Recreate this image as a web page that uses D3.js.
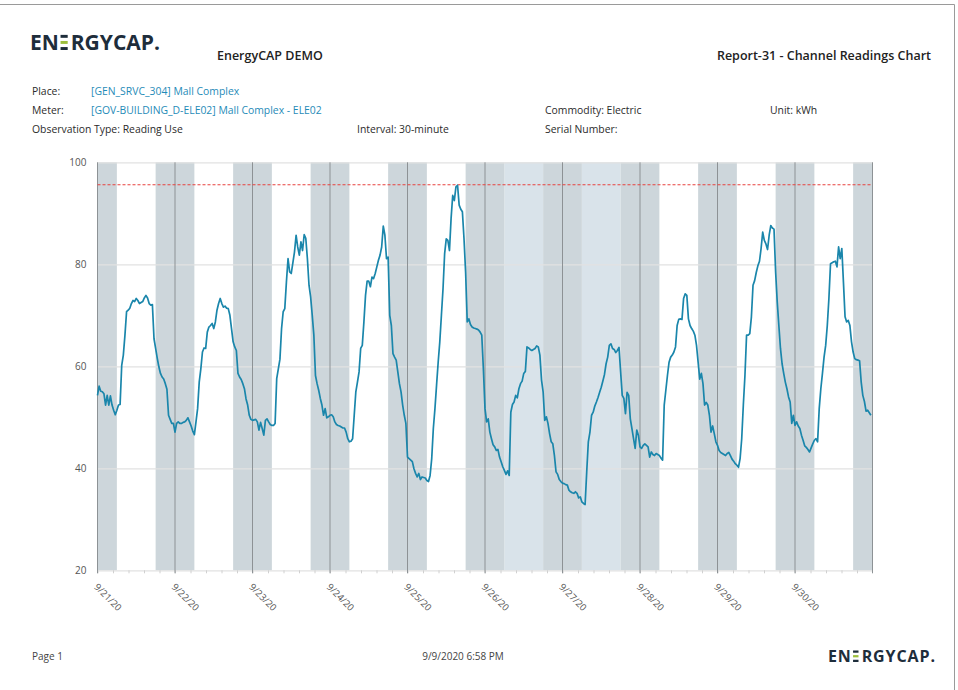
<!DOCTYPE html>
<html>
<head>
<meta charset="utf-8">
<script src="https://cdn.jsdelivr.net/npm/d3@7"></script>
<style>
  body { margin: 0; background: #fff; }
  text { font-family: "Open Sans", "Noto Sans", sans-serif; }
</style>
</head>
<body>
<svg id="page" width="958" height="690"></svg>
<script>
/* Chart data (30-minute readings, kWh)
--------------------------------------------------- */
const dayLabels = ['9/21/20', '9/22/20', '9/23/20', '9/24/20', '9/25/20', '9/26/20', '9/27/20', '9/28/20', '9/29/20', '9/30/20'];
const weekendDays = ['9/26/20', '9/27/20'];
const yTicks = [20, 40, 60, 80, 100];
const limitValue = 95.6;

const sep21 = [54.3, 56.1, 55.1, 55, 54.6, 52.4, 54.3, 52.4, 54.2, 52.4, 51.4, 50.5, 51.4, 52.4, 52.5, 60.2,
  62.2, 66.1, 70.7, 71, 71.4, 72.3, 72.9, 72.7, 73.3, 72.9, 72.3, 72.5, 72.7, 73.4, 73.9, 73.4,
  72.3, 72, 72.1, 65.4, 63.5, 61.6, 59.9, 58.6, 57.9, 57.5, 56.6, 55.5, 50.4, 49.6, 48.8, 48.8];
const sep22 = [47.1, 48.8, 49.1, 48.8, 48.8, 49, 49.1, 49.4, 49.9, 49.1, 48.3, 47.3, 46.6, 49.1, 51.7, 56.9,
  59.5, 62.8, 63.6, 63.5, 66.7, 67.7, 68, 68.4, 67.4, 68.7, 71, 72.3, 73.3, 72.3, 71.6, 71.8,
  71.4, 71.3, 70, 67.4, 64.8, 63.8, 63.1, 58.6, 57.9, 57.4, 56.6, 55.6, 53.6, 52.4, 50.4, 49.6];
const sep23 = [49.4, 49.5, 49.6, 49.1, 47.5, 49, 47.8, 46.5, 49.4, 49.7, 49.1, 48.6, 48.4, 48.4, 48.8, 57.6,
  59.5, 61.4, 67.4, 70.7, 71.3, 76.5, 81.1, 78.5, 78.2, 80.3, 82.4, 85.7, 83.4, 81.8, 84.4, 82.7,
  85.8, 85.1, 81.1, 75.9, 73.6, 70, 66.1, 58.2, 56.6, 55.3, 53.7, 52.4, 50.4, 51.7, 49.9, 50.1];
const sep24 = [50.4, 50.5, 50.1, 49.1, 48.6, 48.4, 48.3, 48.1, 47.9, 47.9, 47.1, 45.8, 45.2, 45.3, 45.8, 50.4,
  55, 56.9, 58.9, 63.5, 64.1, 68.7, 73.9, 76.7, 76.7, 75.6, 77.5, 77.2, 78.2, 79.5, 80.8, 81.8,
  83.4, 87.5, 85.7, 81.1, 81.4, 70, 68, 62.5, 61.8, 61.2, 58.9, 56.6, 55, 52.4, 50.4, 48.8];
const sep25 = [42.2, 41.9, 41.6, 41.3, 39.9, 39, 38.3, 39, 37.8, 38.3, 38.2, 38.1, 37.6, 37.4, 38.6, 41.9,
  47.8, 51.7, 56.3, 60.8, 64.8, 70, 75.2, 82.1, 85, 84.7, 82.7, 89, 93.5, 92.5, 95.2, 95.5,
  91.6, 90.8, 90.3, 85, 78.4, 68.7, 69.3, 68.2, 67.7, 67.5, 67.4, 67.3, 67.1, 66.7, 66.1, 59.5];
const sep26 = [51.7, 49.1, 49.7, 47.1, 45.8, 44.6, 44.2, 43.5, 43.7, 42.2, 41.3, 40.3, 39.6, 38.8, 39.5, 38.6,
  51, 52.5, 53, 54.3, 53.8, 55.6, 56.6, 57.1, 58.6, 59, 63.8, 63.6, 63.3, 63.1, 63.3, 63.5,
  64, 63.8, 62.2, 57.3, 55, 49.4, 50.1, 48.8, 46.8, 45.2, 44.8, 42.5, 39.3, 38.8, 37.8, 37.4];
const sep27 = [37.1, 37, 36.8, 36.7, 35.7, 35.4, 35.2, 35.1, 35.4, 35.1, 34.2, 34.4, 33.4, 33.1, 32.9, 39.3,
  45.2, 47.1, 50.4, 51, 52.2, 53, 53.9, 54.9, 55.9, 57.1, 58.4, 60.5, 61.8, 64.1, 64.4, 63.5,
  63.3, 62.7, 63.1, 63.7, 58.9, 54.3, 53.7, 50.7, 54.9, 54.3, 49.7, 47.8, 45.8, 43.9, 47.5, 46.5];
const sep28 = [44.2, 43.9, 44.5, 44.8, 44.5, 44.2, 42.2, 43.2, 42.7, 42.5, 42.9, 42.7, 42.5, 42, 41.6, 52.4,
  55.3, 58.2, 60.8, 61.8, 62.2, 62.8, 63.8, 68, 69.2, 69.3, 69.2, 73.3, 74.2, 73.9, 69.3, 68,
  67.4, 66.9, 66.1, 64.1, 60.8, 57.5, 58.6, 56.6, 52.4, 52.9, 52.4, 50.4, 47.1, 48.3, 46.8, 45.2];
const sep29 = [44.5, 43.5, 43.1, 42.9, 42.7, 42.5, 42.9, 43.1, 42.5, 41.8, 41.4, 40.9, 40.6, 40.2, 41.9, 45.8,
  52.4, 58.2, 66.1, 66.1, 66.4, 69.7, 75.9, 76.8, 78.4, 79.7, 80.6, 83.1, 86.3, 84.7, 84, 82.9,
  85.7, 87.6, 87.1, 86.9, 78.5, 72.6, 68, 63.5, 60.5, 58.6, 56.9, 55.6, 54, 53, 48.8, 50.4];
const sep30 = [48.4, 49.1, 48.3, 47.8, 46.5, 45.5, 44.4, 44.1, 43.7, 43.2, 44, 44.8, 45.5, 45.8, 45.2, 51.7,
  55.6, 58.6, 61.8, 64.1, 68, 73.3, 80.1, 80.3, 80.5, 80.6, 79.5, 83.4, 81.1, 83.1, 76.5, 69.7,
  68.7, 69, 68, 64.8, 62.8, 61.5, 61.3, 61.2, 61.1, 56.9, 54.3, 53.1, 51.2, 51.4, 50.9, 50.4];

const readingsByDay = [sep21, sep22, sep23, sep24, sep25, sep26, sep27, sep28, sep29, sep30];

/* Set up page, scales and helpers
--------------------------------------------------- */
const svg = d3.select('#page');
const parseDay = d3.timeParse('%m/%d/%y');
const dayDates = dayLabels.map(parseDay);
const start = dayDates[0];
const end = d3.timeDay.offset(dayDates[dayDates.length - 1], 1);

const data = readingsByDay.flatMap((day, i) =>
  day.map((value, k) => ({ date: d3.timeMinute.offset(dayDates[i], k * 30), value })),
);

const plot = { left: 97.5, right: 872.5, top: 162.3, bottom: 570.3 };
const x = d3.scaleTime().domain([start, end]).range([plot.left, plot.right]);
const y = d3.scaleLinear().domain([20, 100]).range([plot.bottom, plot.top]);

const ink = '#2b2b2b';
const linkBlue = '#1f8bb8';
const logoNavy = '#1e2d3b';
const logoGreen = '#9dbf3c';

/* Page frame
--------------------------------------------------- */
svg.append('path').attr('d', 'M0,4.5H954.5V690').attr('fill', 'none').attr('stroke', '#9a9a9a').attr('stroke-width', 1);

/* Logo: the second E is drawn as three bars, middle one green
--------------------------------------------------- */
function drawLogo(px, py, size, width) {
  const g = svg.append('g').attr('transform', `translate(${px},${py})`);
  const t = g
    .append('text')
    .attr('font-family', 'Lato, "Open Sans", sans-serif')
    .attr('font-weight', 700)
    .attr('font-size', size)
    .attr('fill', logoNavy)
    .attr('textLength', width)
    .attr('lengthAdjust', 'spacing');
  t.append('tspan').text('EN');
  t.append('tspan').text('E').attr('fill', 'none');
  t.append('tspan').text('RGYCAP.');

  const box = t.node().getExtentOfChar(2);
  const cap = size * 0.72;
  const bar = size * 0.14;
  const barX = box.x + size * 0.08;
  const barW = box.width - size * 0.22;
  [0, 0.5, 1].forEach((f, i) => {
    g.append('rect')
      .attr('x', barX)
      .attr('y', -cap + f * (cap - bar))
      .attr('width', barW)
      .attr('height', bar)
      .attr('fill', i === 1 ? logoGreen : logoNavy);
  });
  return g;
}

drawLogo(30, 50, 21, 130);
drawLogo(828, 662, 16, 107);

/* Header texts
--------------------------------------------------- */
svg.append('text').attr('x', 217).attr('y', 60).attr('font-size', 12.5).attr('font-weight', 600).attr('fill', '#222').text('EnergyCAP DEMO');
svg
  .append('text')
  .attr('x', 931)
  .attr('y', 60)
  .attr('text-anchor', 'end')
  .attr('font-size', 12.5)
  .attr('font-weight', 600)
  .attr('fill', '#222')
  .text('Report-31 - Channel Readings Chart');

const infoRows = [
  { x: 32, y: 95, text: 'Place:', fill: ink },
  { x: 91, y: 95, text: '[GEN_SRVC_304] Mall Complex', fill: linkBlue },
  { x: 32, y: 114, text: 'Meter:', fill: ink },
  { x: 91, y: 114, text: '[GOV-BUILDING_D-ELE02] Mall Complex - ELE02', fill: linkBlue },
  { x: 545, y: 114, text: 'Commodity: Electric', fill: ink },
  { x: 770, y: 114, text: 'Unit: kWh', fill: ink },
  { x: 32, y: 133, text: 'Observation Type: Reading Use', fill: ink },
  { x: 357, y: 133, text: 'Interval: 30-minute', fill: ink },
  { x: 545, y: 133, text: 'Serial Number:', fill: ink },
];

svg
  .selectAll('.info')
  .data(infoRows)
  .enter()
  .append('text')
  .attr('class', 'info')
  .attr('x', d => d.x)
  .attr('y', d => d.y)
  .attr('font-size', 10.4)
  .attr('fill', d => d.fill)
  .text(d => d.text);

/* Background bands: night (18:00-06:00) and weekend daytime
--------------------------------------------------- */
const nightBands = dayDates.flatMap(day => [
  [day, d3.timeHour.offset(day, 6)],
  [d3.timeHour.offset(day, 18), d3.timeDay.offset(day, 1)],
]);
const weekendBands = weekendDays.map(parseDay).map(day => [d3.timeHour.offset(day, 6), d3.timeHour.offset(day, 18)]);

const chart = svg.append('g');

chart
  .selectAll('.weekend')
  .data(weekendBands)
  .enter()
  .append('rect')
  .attr('class', 'weekend')
  .attr('x', d => x(d[0]))
  .attr('width', d => x(d[1]) - x(d[0]))
  .attr('y', plot.top)
  .attr('height', plot.bottom - plot.top)
  .attr('fill', '#d9e3ea');

chart
  .selectAll('.night')
  .data(nightBands)
  .enter()
  .append('rect')
  .attr('class', 'night')
  .attr('x', d => x(d[0]))
  .attr('width', d => x(d[1]) - x(d[0]))
  .attr('y', plot.top)
  .attr('height', plot.bottom - plot.top)
  .attr('fill', '#cdd6db');

/* Grid lines and axes
--------------------------------------------------- */
chart
  .append('g')
  .attr('transform', `translate(${plot.left},0)`)
  .call(
    d3
      .axisLeft(y)
      .tickValues(yTicks)
      .tickSize(-(plot.right - plot.left))
      .tickFormat(d3.format('d')),
  )
  .call(g => g.select('.domain').remove())
  .call(g => g.selectAll('.tick line').attr('stroke', '#e2e2e2').attr('stroke-width', 1.2))
  .call(g =>
    g
      .selectAll('.tick text')
      .attr('x', -11)
      .attr('font-size', 10)
      .attr('fill', '#555')
      .attr('font-family', '"Open Sans", sans-serif'),
  );

const minorTicks = dayDates.flatMap(day => d3.range(5).map(k => d3.timeMinute.offset(day, k * 288)));

chart
  .append('g')
  .attr('transform', `translate(0,${plot.bottom})`)
  .call(d3.axisBottom(x).tickValues(minorTicks).tickSize(3).tickFormat(''))
  .call(g => g.select('.domain').remove())
  .call(g => g.selectAll('.tick line').attr('stroke', '#d0d0d0'));

chart
  .selectAll('.day-line')
  .data(dayDates.concat([end]))
  .enter()
  .append('line')
  .attr('class', 'day-line')
  .attr('x1', d => x(d))
  .attr('x2', d => x(d))
  .attr('y1', plot.top)
  .attr('y2', plot.bottom + 3)
  .attr('stroke', '#8d9295')
  .attr('stroke-width', 1);

chart
  .append('g')
  .attr('transform', `translate(0,${plot.bottom})`)
  .call(
    d3
      .axisBottom(x)
      .tickValues(dayDates)
      .tickSize(0)
      .tickFormat((d, i) => dayLabels[i]),
  )
  .call(g => g.select('.domain').remove())
  .call(g =>
    g
      .selectAll('.tick text')
      .attr('x', 9)
      .attr('y', 12)
      .attr('dy', '0.35em')
      .attr('transform', 'rotate(45)')
      .attr('text-anchor', 'start')
      .attr('font-size', 9.5)
      .attr('fill', '#555')
      .attr('font-family', '"Open Sans", sans-serif'),
  );

/* Limit line and reading series
--------------------------------------------------- */
chart
  .append('line')
  .attr('x1', plot.left)
  .attr('x2', plot.right)
  .attr('y1', y(limitValue))
  .attr('y2', y(limitValue))
  .attr('stroke', '#e8423f')
  .attr('stroke-width', 1.2)
  .attr('stroke-dasharray', '3,2');

const valueline = d3
  .line()
  .x(d => x(d.date))
  .y(d => y(d.value));

chart
  .append('path')
  .datum(data)
  .attr('d', valueline)
  .attr('fill', 'none')
  .attr('stroke', '#1a86ab')
  .attr('stroke-width', 1.7)
  .attr('stroke-linejoin', 'round');

/* Footer
--------------------------------------------------- */
svg.append('text').attr('x', 32).attr('y', 660).attr('font-size', 10).attr('fill', '#444').text('Page 1');
svg
  .append('text')
  .attr('x', 463)
  .attr('y', 660)
  .attr('text-anchor', 'middle')
  .attr('font-size', 10)
  .attr('fill', '#444')
  .text('9/9/2020 6:58 PM');
</script>
</body>
</html>
